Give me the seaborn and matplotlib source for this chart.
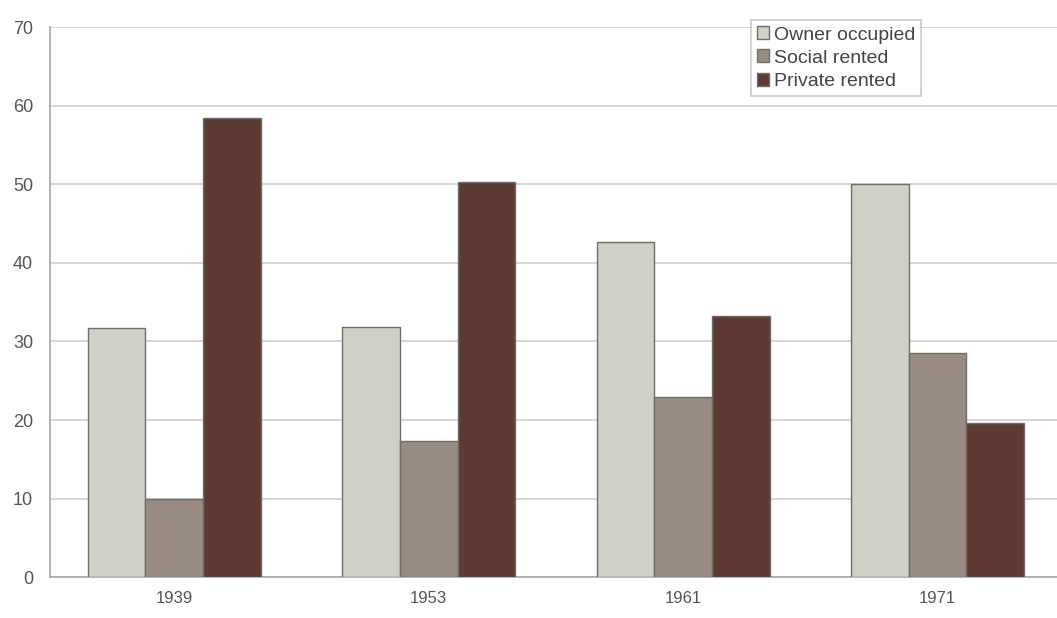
import pandas as pd
import matplotlib.pyplot as plt
import seaborn as sns

years = ["1939", "1953", "1961", "1971"]
owner_occupied = [31.7, 31.8, 42.6, 50.0]
social_rented = [9.9, 17.3, 22.9, 28.5]
private_rented = [58.4, 50.3, 33.2, 19.6]

series_names = ["Owner occupied", "Social rented", "Private rented"]
palette = ["#cfd0c6", "#998b82", "#5e3a33"]

df = pd.DataFrame({
    "year": years * 3,
    "tenure": [s for s in series_names for _ in years],
    "pct": owner_occupied + social_rented + private_rented,
})

sns.set_theme(style="white")
plt.rcParams["font.family"] = ["Liberation Sans", "DejaVu Sans"]

fig = plt.figure(figsize=(10.57, 6.18), dpi=100)
ax = fig.add_axes([0.047, 0.066, 0.953, 0.890])

sns.barplot(data=df, x="year", y="pct", hue="tenure", hue_order=series_names,
            palette=palette, width=0.68, gap=0, edgecolor="#6e6e68", linewidth=1.0,
            saturation=1, ax=ax, zorder=3)

ax.set_ylim(0, 70)
ax.set_yticks(range(0, 71, 10))
ax.set_xlim(-0.49, 3.47)
ax.yaxis.grid(True, color="#cfcfcf", linewidth=1.2, zorder=0)
ax.set_axisbelow(True)
ax.set_xlabel("")
ax.set_ylabel("")
for side in ["top", "right"]:
    ax.spines[side].set_visible(False)
for side in ["left", "bottom"]:
    ax.spines[side].set_color("#a8a8a8")
    ax.spines[side].set_linewidth(1.2)
ax.tick_params(axis="y", direction="out", length=6, color="#a8a8a8", labelsize=13,
               labelcolor="#555555", pad=6)
ax.tick_params(axis="x", length=0, labelsize=12, labelcolor="#555555", pad=10)

leg = ax.legend(loc="upper right", bbox_to_anchor=(0.875, 1.03), fontsize=14,
                frameon=True, fancybox=False, edgecolor="#bdbdbd",
                handlelength=0.65, handleheight=0.65, handletextpad=0.25,
                labelspacing=0.3, borderpad=0.3, labelcolor="#444444")
leg.get_frame().set_linewidth(1.2)

fig.savefig("out.png", dpi=100)
